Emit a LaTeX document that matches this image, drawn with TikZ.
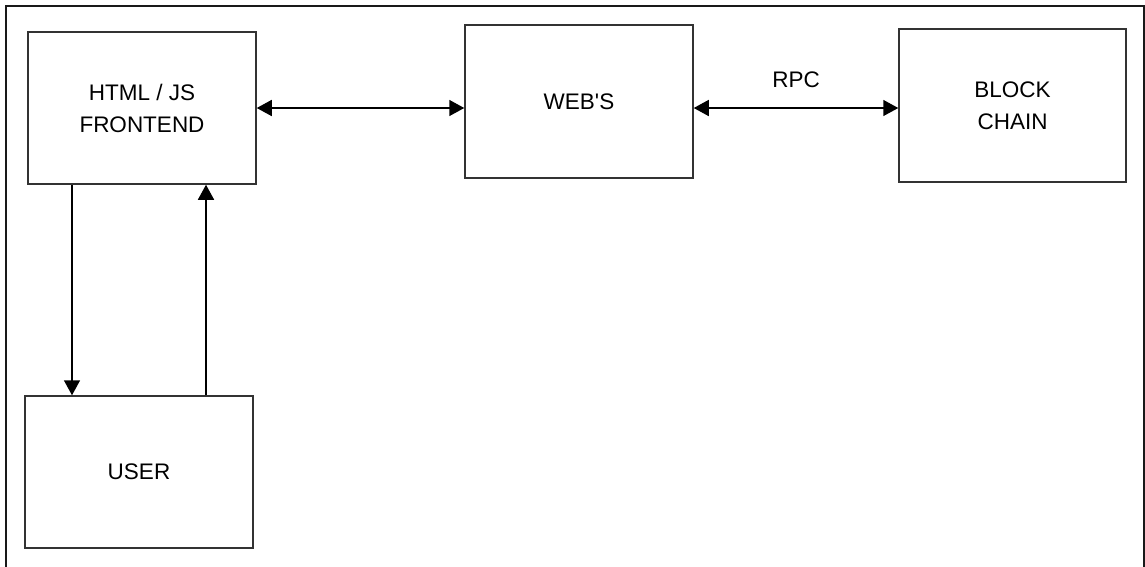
\documentclass[tikz,border=0pt]{standalone}
\usepackage{fontspec}
\setmainfont{Liberation Sans}
\usetikzlibrary{arrows.meta}
\begin{document}
\begin{tikzpicture}[x=1pt,y=-1pt,
  box/.style={draw=black!80, line width=1.5pt, rectangle, inner sep=0pt,
    minimum width=228pt, minimum height=152pt, align=center,
    font=\fontsize{22.5}{32}\selectfont},
  conn/.style={line width=1.5pt, black, -{Triangle[length=15pt,width=16pt]}},
  biconn/.style={line width=1.5pt, black, {Triangle[length=15pt,width=16pt]}-{Triangle[length=15pt,width=16pt]}},
  frameline/.style={line width=2.5pt, black!90}]
\useasboundingbox (0,0) rectangle (1145,566);
\draw[frameline] (6,568) -- (6,6) -- (1144,6) -- (1144,568);
\node[box] (html) at (142,108) {HTML / JS\\FRONTEND};
\node[box, minimum height=153pt] (webs) at (579,101.5) {WEB\textquotesingle S};
\node[box, minimum width=227pt, minimum height=153pt] (block) at (1012.5,105.5) {BLOCK\\CHAIN};
\node[box] (user) at (139,472) {USER};
\draw[biconn] (html.east) -- (html.east -| webs.west);
\draw[biconn] (webs.east |- html.east) -- node[above=20pt, font=\fontsize{22.5}{26}\selectfont, inner sep=0pt] (rpc) {RPC} (block.west |- html.east);
\draw[conn] ([xshift=-70pt]html.south) -- ([xshift=-70pt]html.south |- user.north);
\draw[conn] ([xshift=64pt]html.south |- user.north) -- ([xshift=64pt]html.south);
\end{tikzpicture}
\end{document}
